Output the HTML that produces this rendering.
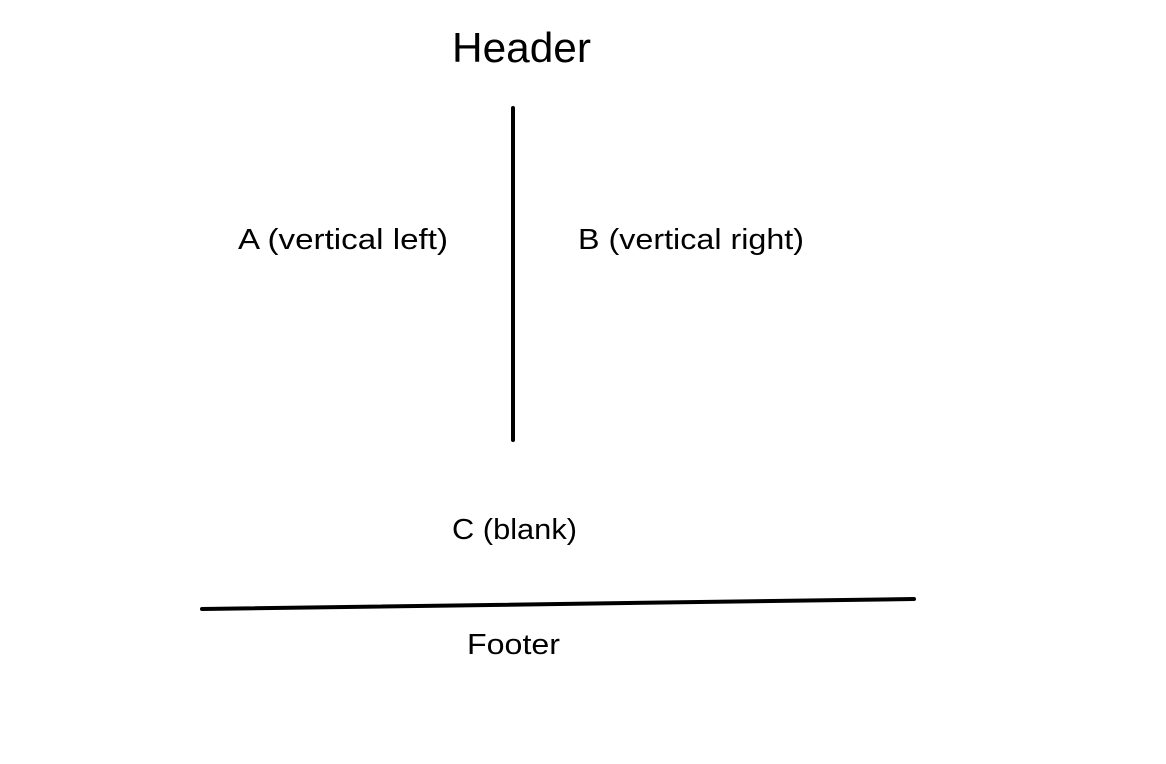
<!DOCTYPE html>
<html><head><meta charset="utf-8"><style>
html,body{margin:0;padding:0;background:#fff;}
svg{display:block}
text{font-family:"Liberation Sans",sans-serif;fill:#000}
</style></head><body>
<svg width="1166" height="764" viewBox="0 0 1166 764" xmlns="http://www.w3.org/2000/svg">
<rect width="1166" height="764" fill="#fff"/>
<text x="452" y="62" font-size="42" textLength="139" lengthAdjust="spacingAndGlyphs">Header</text>
<line x1="513" y1="108" x2="513" y2="440" stroke="#000" stroke-width="4" stroke-linecap="round"/>
<text x="238" y="249" font-size="29" textLength="210" lengthAdjust="spacingAndGlyphs">A (vertical left)</text>
<text x="578" y="249" font-size="29" textLength="226" lengthAdjust="spacingAndGlyphs">B (vertical right)</text>
<text x="452" y="539" font-size="29" textLength="125" lengthAdjust="spacingAndGlyphs">C (blank)</text>
<line x1="202" y1="609" x2="914" y2="599" stroke="#000" stroke-width="4" stroke-linecap="round"/>
<text x="467" y="654" font-size="29" textLength="93" lengthAdjust="spacingAndGlyphs">Footer</text>
</svg>
</body></html>
